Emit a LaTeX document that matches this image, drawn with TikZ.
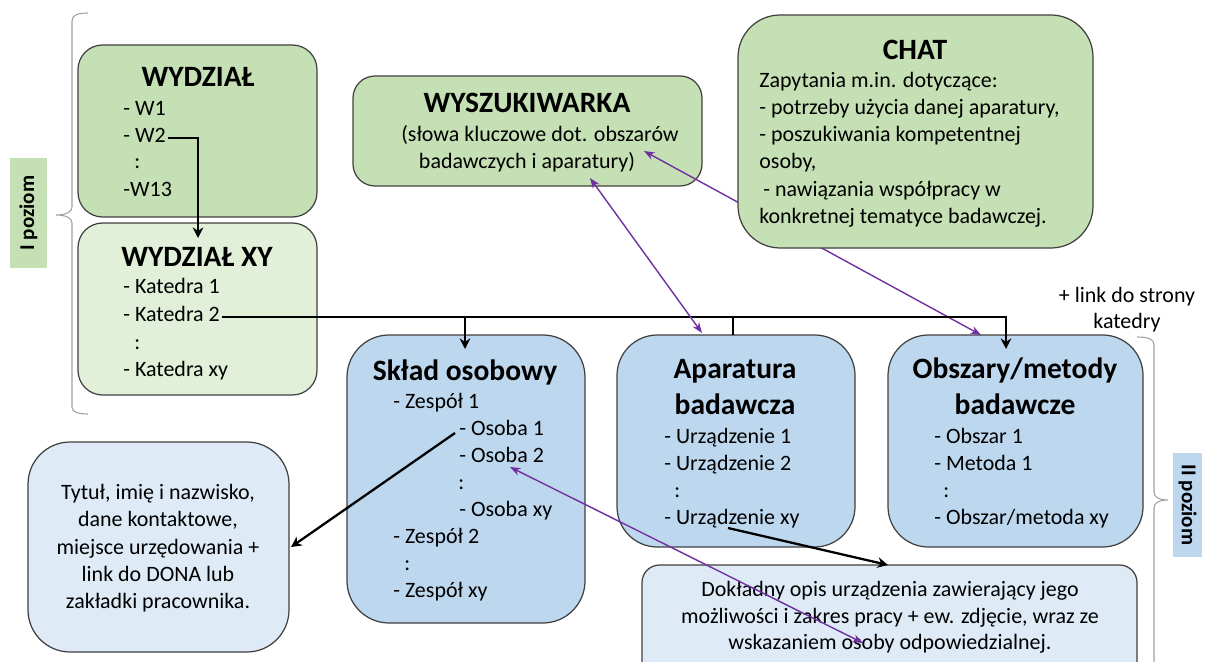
\documentclass[tikz,border=0pt]{standalone}
\usepackage{fontspec}
\setmainfont{Carlito}
\usetikzlibrary{arrows.meta,fit}
\definecolor{gmid}{HTML}{C5E0B4}
\definecolor{glight}{HTML}{E2F0D9}
\definecolor{bmid}{HTML}{BDD7EE}
\definecolor{blight}{HTML}{DEEBF7}
\definecolor{bord}{HTML}{404040}
\definecolor{purp}{HTML}{7030A0}
\definecolor{bracecol}{HTML}{A0A0A0}
\tikzset{
  box/.style={draw=bord, line width=0.7pt, rounded corners=#1, inner sep=0pt},
  body/.style={font=\fontsize{12.5}{15}\selectfont, inner sep=0pt, anchor=base west},
  bodyc/.style={font=\fontsize{12.5}{15}\selectfont, inner sep=0pt, anchor=base},
  ttl/.style={font=\fontsize{16.8}{20}\selectfont\bfseries, inner sep=0pt, anchor=base},
  lbl/.style={font=\fontsize{12}{14}\selectfont\bfseries, inner sep=0pt},
  blk/.style={line width=1.3pt, -{Stealth[length=6pt,width=6pt]}},
  blkplain/.style={line width=1.3pt},
  purple/.style={draw=purp, line width=0.8pt, {Stealth[length=6pt,width=4.5pt]}-{Stealth[length=6pt,width=4.5pt]}},
  bracestyle/.style={draw=bracecol, line width=0.6pt},
}
\begin{document}
\begin{tikzpicture}[x=0.02cm,y=-0.02cm]
\useasboundingbox (0,0) rectangle (1206,662);

% braces
\draw[bracestyle] (88,13) .. controls (78,13) and (72,15) .. (72,21) -- (72,207)
  .. controls (72,212) and (66,215) .. (56,215) .. controls (66,215) and (72,218) .. (72,223)
  -- (72,407) .. controls (72,412) and (78,414) .. (88,414);
\draw[bracestyle] (1137,337) .. controls (1148,337) and (1154,339) .. (1154,345) -- (1154,492)
  .. controls (1154,497) and (1159,500) .. (1168,500) .. controls (1159,500) and (1154,503) .. (1154,508)
  -- (1154,700);

% level labels
\node[fill=gmid, inner sep=0pt, fit={(10,158) (47,268)}] (lvlone) {};
\node[lbl, rotate=90] (lvlonet) at (lvlone.center) {I poziom};
\node[fill=bmid, inner sep=0pt, fit={(1173,453) (1202,557)}] (lvltwo) {};
\node[lbl, rotate=-90] (lvltwot) at (lvltwo.center) {II poziom};

% boxes
\node[box=14pt, fill=gmid, fit={(78,45) (317,217)}] (wyd) {};
\node[box=14pt, fill=glight, fit={(78,223) (317,395)}] (wydxy) {};
\node[box=12.5pt, fill=gmid, fit={(353,76) (702,186)}] (wysz) {};
\node[box=24pt, fill=bmid, fit={(347,335) (585,623)}] (sklad) {};
\node[box=23pt, fill=bmid, fit={(617,335) (855,547)}] (apar) {};
\node[box=23pt, fill=bmid, fit={(888,335) (1143,547)}] (obsz) {};
\node[box=24pt, fill=blight, fit={(28,442) (289,652)}] (tytul) {};
\node[box=10pt, fill=blight, fit={(642,565) (1137,700)}] (dokl) {};

% purple connector behind CHAT
\coordinate (wyB) at (644,151);
\coordinate (obB) at (981,335);
\draw[purple] (wyB) -- (obB);

\node[box=24pt, fill=gmid, fit={(738,15) (1093,248)}] (chat) {};

% texts: WYDZIAL
\node[ttl] (wydt) at (198,87) {WYDZIAŁ};
\node[body] (w1) at (123,116) {- W1};
\node[body] (w2) at (123,143) {- W2};
\node[body] (wdots) at (134,169) {:};
\node[body] (w13) at (123,196) {-W13};

% WYDZIAL XY
\node[ttl] (wydxyt) at (197,266) {WYDZIAŁ XY};
\node[body] (k1) at (123,293) {- Katedra 1};
\node[body] (k2) at (123,321) {- Katedra 2};
\node[body] (kdots) at (134,349) {:};
\node[body] (kxy) at (123,376) {- Katedra xy};

% WYSZUKIWARKA
\node[ttl] (wyszt) at (527,113) {WYSZUKIWARKA};
\node[bodyc] (wysz1) at (540,142) {(słowa kluczowe dot. obszarów};
\node[bodyc] (wysz2) at (527,169) {badawczych i aparatury)};

% CHAT
\node[ttl] (chatt) at (915,60) {CHAT};
\node[body] (c1) at (759,88) {Zapytania m.in. dotyczące:};
\node[body] (c2) at (759,115) {- potrzeby użycia danej aparatury,};
\node[body] (c3) at (759,142) {- poszukiwania kompetentnej};
\node[body] (c4) at (759,169) {osoby,};
\node[body] (c5) at (763,196) {- nawiązania współpracy w};
\node[body] (c6) at (759,223) {konkretnej tematyce badawczej.};

% link note
\node[bodyc] (link1) at (1127,302) {+ link do strony};
\node[bodyc] (link2) at (1127,328) {katedry};

% Sklad osobowy
\node[ttl] (skladt) at (465,380) {Skład osobowy};
\node[body] (z1) at (393,408) {- Zespół 1};
\node[body] (o1) at (459,435) {- Osoba 1};
\node[body] (o2) at (459,462) {- Osoba 2};
\node[body] (odots) at (458,489) {:};
\node[body] (oxy) at (459,516) {- Osoba xy};
\node[body] (z2) at (393,543) {- Zespół 2};
\node[body] (zdots) at (404,570) {:};
\node[body] (zxy) at (393,597) {- Zespół xy};

% Aparatura
\node[ttl] (apart1) at (735,378) {Aparatura};
\node[ttl] (apart2) at (735,414) {badawcza};
\node[body] (u1) at (664,443) {- Urządzenie 1};
\node[body] (u2) at (664,470) {- Urządzenie 2};
\node[body] (udots) at (674,497) {:};
\node[body] (uxy) at (664,524) {- Urządzenie xy};

% Obszary
\node[ttl] (obszt1) at (1015,378) {Obszary/metody};
\node[ttl] (obszt2) at (1015,414) {badawcze};
\node[body] (ob1) at (934,443) {- Obszar 1};
\node[body] (m1) at (934,470) {- Metoda 1};
\node[body] (obdots) at (943,497) {:};
\node[body] (obxy) at (934,524) {- Obszar/metoda xy};

% Tytul
\node[bodyc] (t1) at (158,499) {Tytuł, imię i nazwisko,};
\node[bodyc] (t2) at (158,526) {dane kontaktowe,};
\node[bodyc] (t3) at (158,554) {miejsce urzędowania +};
\node[bodyc] (t4) at (158,581) {link do DONA lub};
\node[bodyc] (t5) at (158,608) {zakładki pracownika.};

% Dokladny
\node[bodyc] (d1) at (890,596) {Dokładny opis urządzenia zawierający jego};
\node[bodyc] (d2) at (890,623) {możliwości i zakres pracy + ew. zdjęcie, wraz ze};
\node[bodyc] (d3) at (890,649) {wskazaniem osoby odpowiedzialnej.};

% black connectors
\coordinate (w2e) at (168,138);
\coordinate (wxyin) at (198,238);
\draw[blk] (w2e) -| (wxyin);

\coordinate (k2e) at (222,317);
\coordinate (obin) at (1006,349);
\coordinate (skin) at (465,349);
\coordinate (apin) at (733,335);
\draw[blk] (k2e) -| (obin);
\draw[blk] (skin |- k2e) -- (skin);
\draw[blkplain] (apin |- k2e) -- (apin);

\coordinate (o1s) at (455,433);
\coordinate (tyin) at (291,547);
\draw[blk] (o1s) -- (tyin);

\coordinate (uxys) at (728,528);
\coordinate (doin) at (888,565);
\draw[blk] (uxys) -- (doin);

% purple connectors
\coordinate (wyA) at (590,178);
\coordinate (apA) at (702,333);
\draw[purple] (wyA) -- (apA);
\coordinate (o2p) at (510,467);
\coordinate (dop) at (863,643);
\draw[purple] (o2p) -- (dop);
\end{tikzpicture}
\end{document}
